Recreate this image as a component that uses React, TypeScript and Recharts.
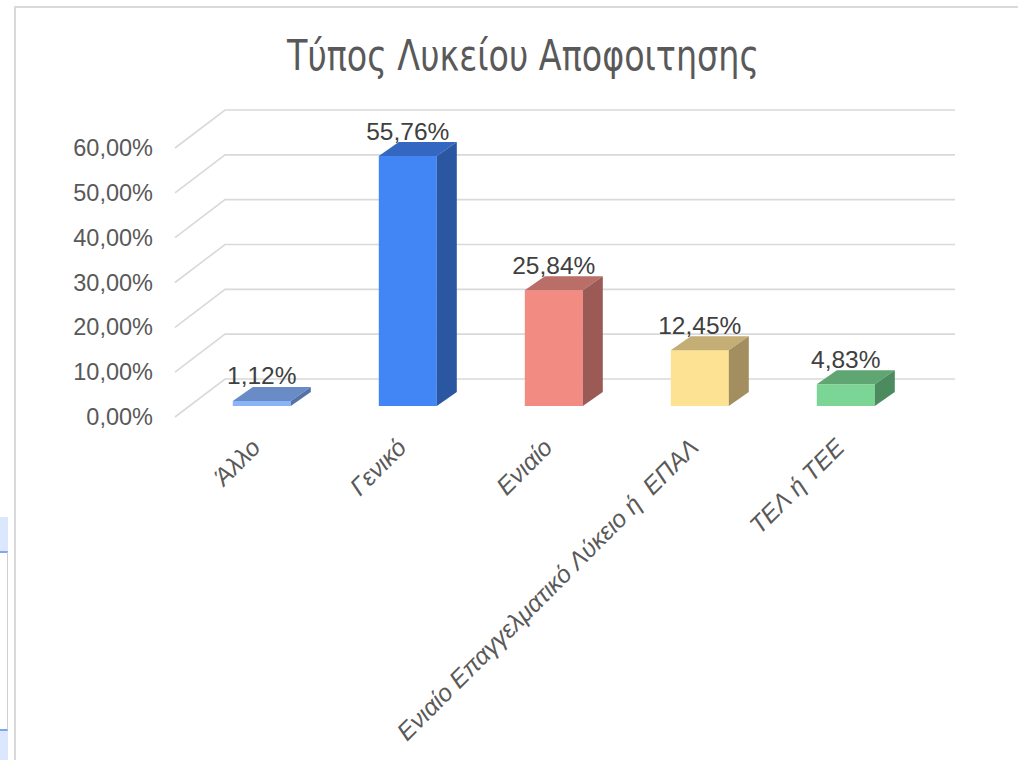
import React from 'react';
import { BarChart, Bar, XAxis, YAxis, CartesianGrid, LabelList } from 'recharts';

const categories = ['Άλλο', 'Γενικό', 'Ενιαίο', 'Ενιαίο Επαγγελματικό Λύκειο ή  ΕΠΑΛ', 'ΤΕΛ ή ΤΕΕ'];
const shares = [1.12, 55.76, 25.84, 12.45, 4.83];
const yTicks = [0, 10, 20, 30, 40, 50, 60];

const frontColors = ['#8ab4f8', '#4285f4', '#f28b82', '#fde293', '#7bd595'];
const topColors = ['#6a8cc6', '#3367c2', '#b96e68', '#c4ae76', '#5fa672'];
const sideColors = ['#5572a8', '#2a56a2', '#9b5a55', '#a38e60', '#4c8b5e'];

const data = categories.map((name, i) => ({ name, value: shares[i] }));

// oblique projection offsets
const DEPTH_X = 20;
const DEPTH_Y = -14;
const WALL_BACK = { dx: 36, dy: -27 };
const WALL_FRONT = { dx: -14, dy: 11 };

const FONT = "'Liberation Sans', Arial, sans-serif";
const fmt = (v: number) => `${v.toFixed(2).replace('.', ',')}%`;

function Box3D(props: any) {
  const { x, y, width: w, height: h, index } = props;
  if (w == null || h == null) return null;
  return (
    <g>
      <rect x={x} y={y} width={w} height={h} fill={frontColors[index]} />
      <polygon
        points={`${x},${y} ${x + DEPTH_X},${y + DEPTH_Y} ${x + w + DEPTH_X},${y + DEPTH_Y} ${x + w},${y}`}
        fill={topColors[index]}
      />
      <polygon
        points={`${x + w},${y} ${x + w + DEPTH_X},${y + DEPTH_Y} ${x + w + DEPTH_X},${y + h + DEPTH_Y} ${x + w},${y + h}`}
        fill={sideColors[index]}
      />
    </g>
  );
}

function gridLine(p: any) {
  const { x1, x2, y1, key } = p;
  const d = `M${x1 + WALL_FRONT.dx},${y1 + WALL_FRONT.dy}L${x1 + WALL_BACK.dx},${y1 + WALL_BACK.dy}L${x2 + WALL_BACK.dx},${y1 + WALL_BACK.dy}`;
  return <path key={key} d={d} stroke="#d9d9d9" strokeWidth={1.6} fill="none" />;
}

function YTick(p: any) {
  return (
    <text
      x={p.x - 36}
      y={p.y + 11}
      textAnchor="end"
      dominantBaseline="central"
      fontFamily={FONT}
      fontSize={23.5}
      fill="#595959"
    >
      {fmt(p.payload.value)}
    </text>
  );
}

function XTick(p: any) {
  const ax = p.x;
  const ay = p.y + 43;
  return (
    <text
      x={ax}
      y={ay}
      transform={`rotate(-45 ${ax} ${ay})`}
      textAnchor="end"
      fontFamily={FONT}
      fontSize={24.5}
      fontStyle="italic"
      fill="#595959"
      style={{ whiteSpace: 'pre' }}
    >
      {p.payload.value}
    </text>
  );
}

function ValueLabel(p: any) {
  const { x, y, width, value } = p;
  return (
    <text
      x={x + width / 2}
      y={y - 25}
      textAnchor="middle"
      dominantBaseline="central"
      fontFamily={FONT}
      fontSize={24.5}
      fill="#404040"
    >
      {fmt(value)}
    </text>
  );
}

export default function App() {
  return (
    <div style={{ position: 'absolute', left: 0, top: 0, width: 1018, height: 760, background: '#fff', overflow: 'hidden' }}>
      {/* spreadsheet edge peeking out on the left */}
      <div style={{ position: 'absolute', left: 0, top: 517, width: 8, height: 243, background: '#dbe7fc' }} />
      <div style={{ position: 'absolute', left: 0, top: 551, width: 7, height: 176, background: '#fff', borderTop: '2px solid #7fa6ee', borderBottom: '2px solid #7fa6ee', borderRight: '1px solid #d0d0d0' }} />
      {/* chart frame */}
      <div style={{ position: 'absolute', left: 14, top: 6, width: 1004, height: 754, borderTop: '2px solid #dadada', borderLeft: '2px solid #dadada', boxSizing: 'border-box' }} />

      <svg style={{ position: 'absolute', left: 0, top: 0 }} width={1018} height={100}>
        <text
          x={523}
          y={70}
          textAnchor="middle"
          fontFamily="'Liberation Sans Narrow', 'DejaVu Sans Condensed', 'Liberation Sans', sans-serif"
          fontSize={42}
          textLength={472}
          lengthAdjust="spacingAndGlyphs"
          fill="#595959"
        >
          Τύπος Λυκείου Αποφοιτησης
        </text>
      </svg>

      <div style={{ position: 'absolute', left: 0, top: 0 }}>
        <BarChart
          width={1018}
          height={760}
          data={data}
          margin={{ top: 137, right: 99, bottom: 304, left: 129 }}
          barCategoryGap="30%"
        >
          <CartesianGrid vertical={false} horizontal={gridLine} />
          <XAxis
            dataKey="name"
            height={50}
            axisLine={false}
            tickLine={false}
            tickSize={0}
            tickMargin={0}
            interval={0}
            tick={XTick}
          />
          <YAxis
            type="number"
            domain={[0, 60]}
            ticks={yTicks}
            width={60}
            axisLine={false}
            tickLine={false}
            tickSize={0}
            tickMargin={0}
            tick={YTick}
          />
          <Bar dataKey="value" shape={Box3D} isAnimationActive={false}>
            <LabelList dataKey="value" content={ValueLabel} />
          </Bar>
        </BarChart>
      </div>
    </div>
  );
}
